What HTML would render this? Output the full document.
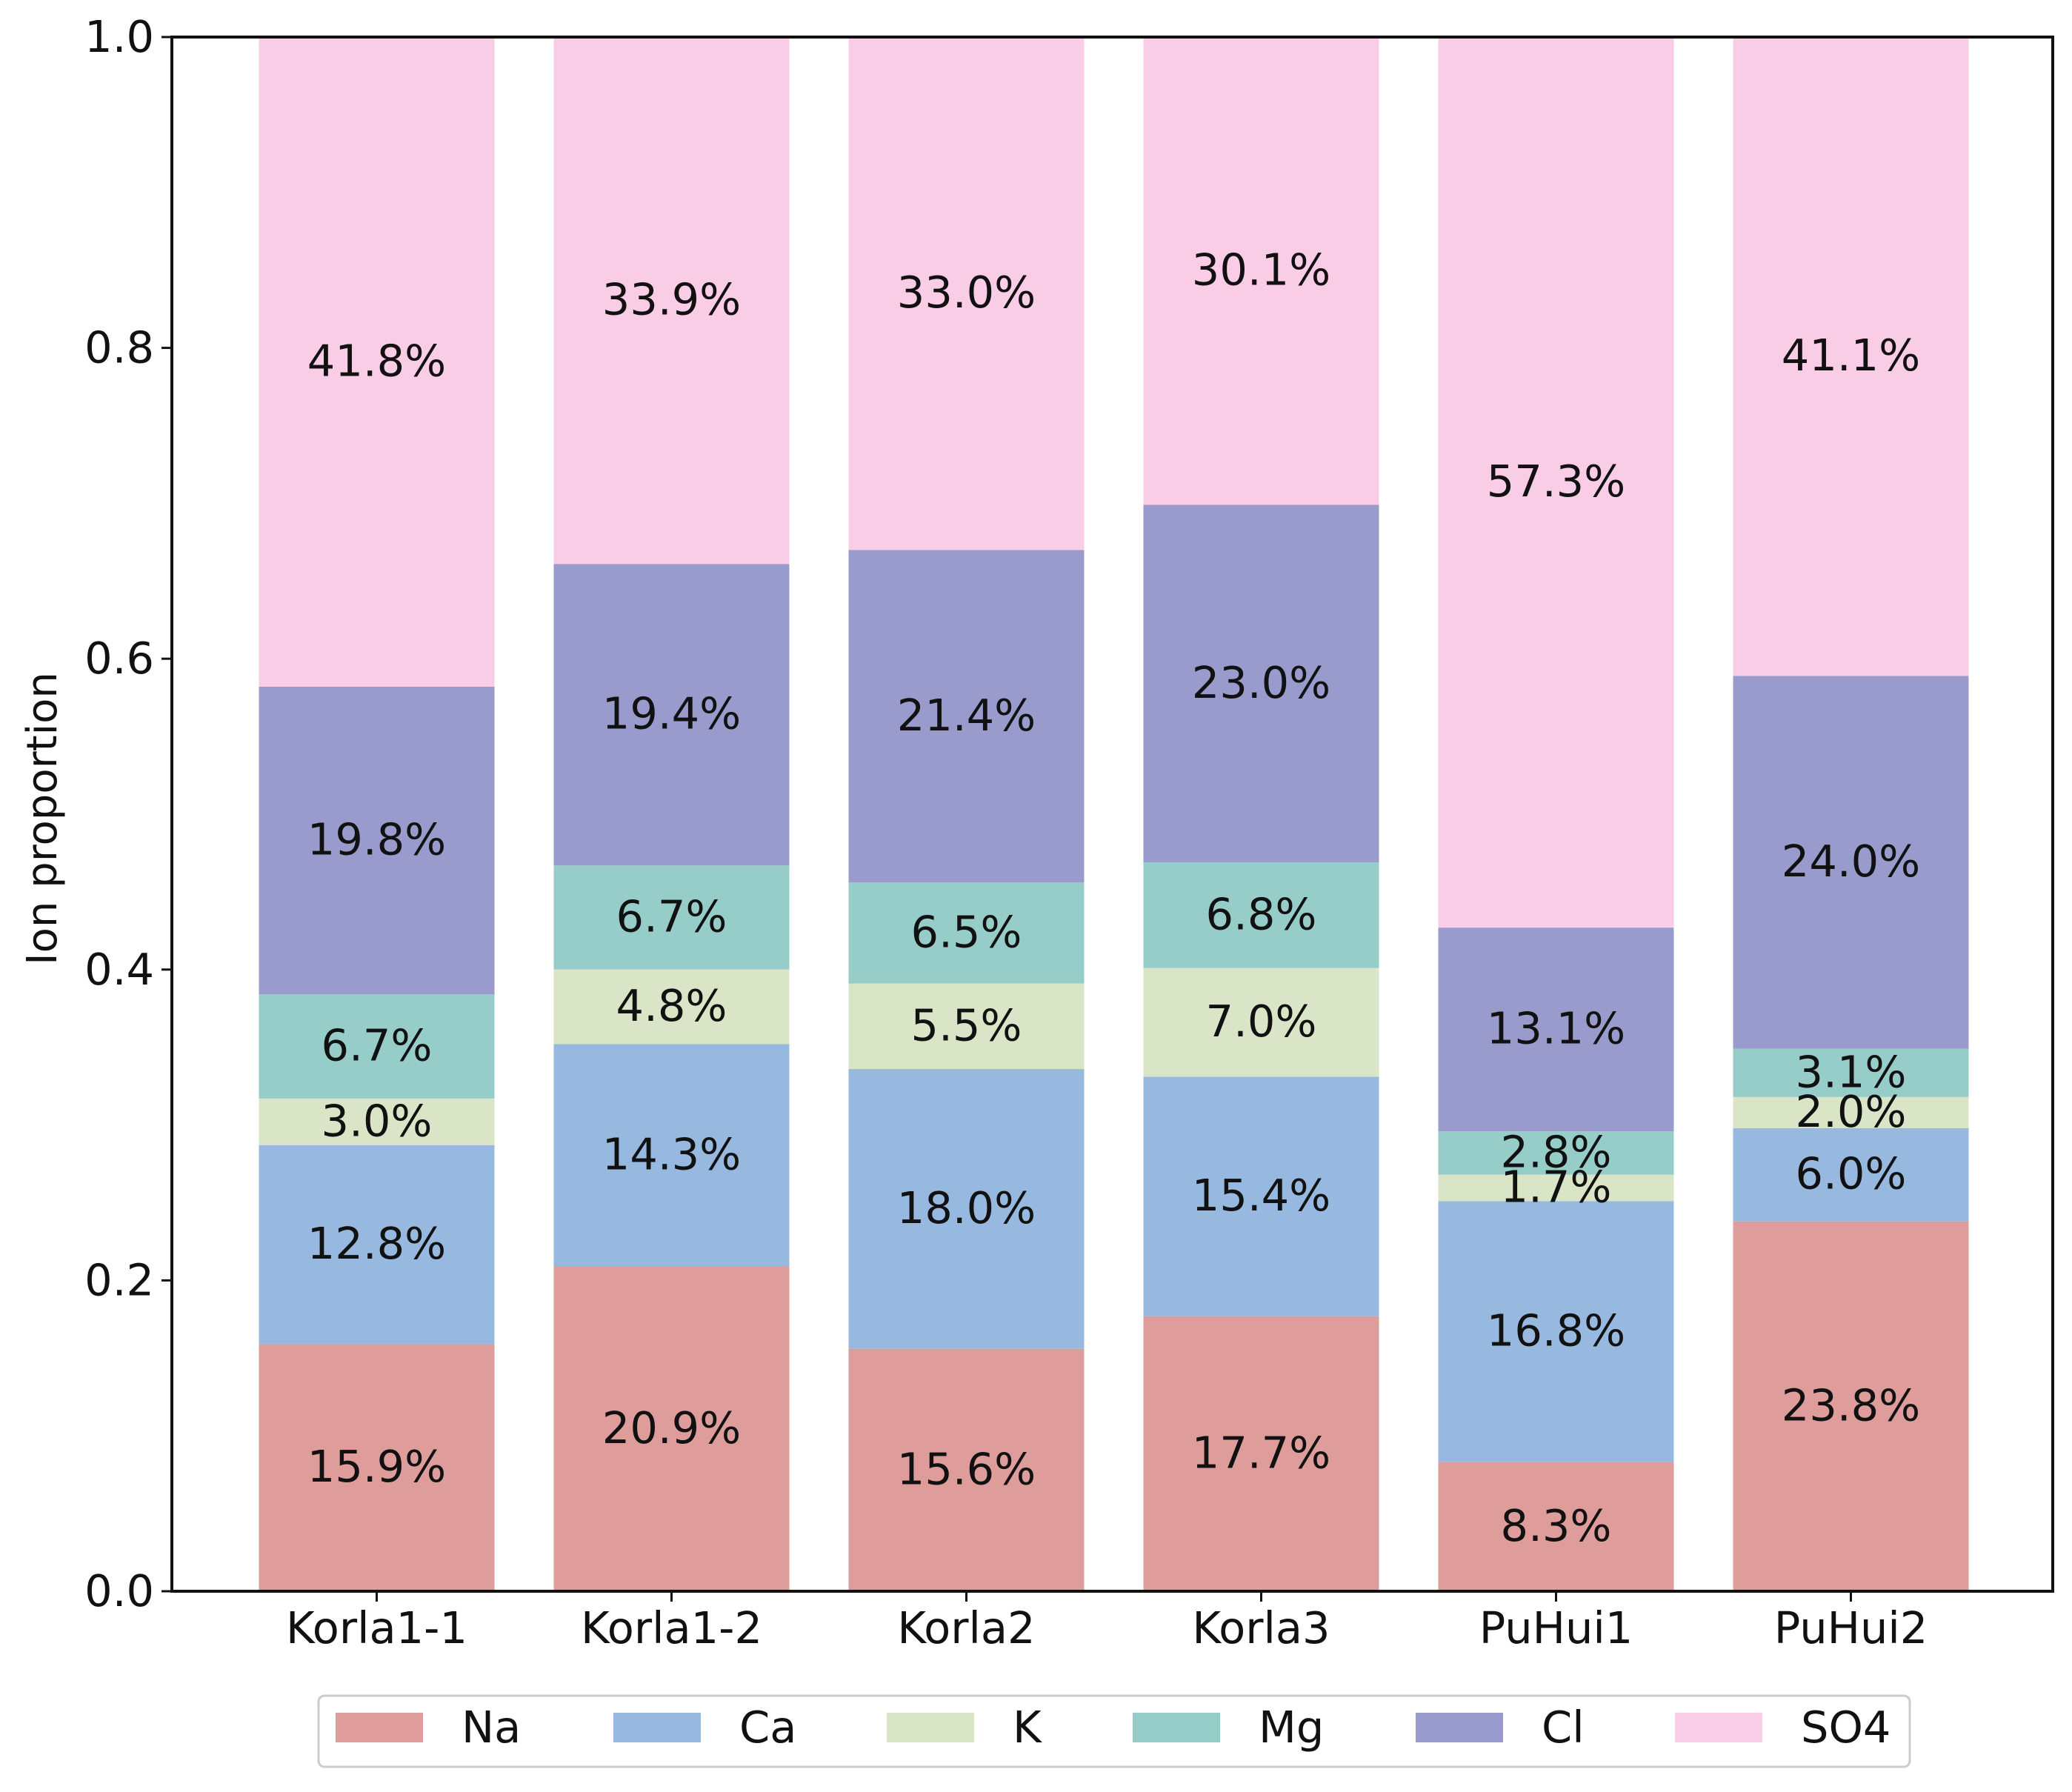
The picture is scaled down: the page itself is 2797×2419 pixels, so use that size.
<!DOCTYPE html>
<html><head><meta charset="utf-8">
<style>
html,body{margin:0;padding:0;background:#fff;}
svg{display:block;font-family:"DejaVu Sans","Liberation Sans",sans-serif;}
</style></head>
<body>
<svg id="chart" width="2797" height="2419" viewBox="0 0 2797 2419" xmlns="http://www.w3.org/2000/svg">
<g id="bars"></g>
<g id="labels"></g>
<rect x="232" y="50" width="2539" height="2098" fill="none" stroke="#111" stroke-width="4"/>
<g id="yaxis"></g>
<g id="xaxis"></g>
<text transform="translate(76,1105) rotate(-90)" text-anchor="middle" font-size="56" fill="#111">Ion proportion</text>
<g id="legend">
<rect x="430" y="2289" width="2148" height="96" rx="8" fill="#fff" stroke="#ccc" stroke-width="3"/>
</g>
</svg>
<script>
const categories = ["Korla1-1","Korla1-2","Korla2","Korla3","PuHui1","PuHui2"];
const seriesNames = ["Na","Ca","K","Mg","Cl","SO4"];
const Na  = [15.9,20.9,15.6,17.7,8.3,23.8];
const Ca  = [12.8,14.3,18.0,15.4,16.8,6.0];
const K   = [3.0,4.8,5.5,7.0,1.7,2.0];
const Mg  = [6.7,6.7,6.5,6.8,2.8,3.1];
const Cl  = [19.8,19.4,21.4,23.0,13.1,24.0];
const SO4 = [41.8,33.9,33.0,30.1,57.3,41.1];
const yTicks = [0.0,0.2,0.4,0.6,0.8,1.0];
const tickLabels = ["0.0","0.2","0.4","0.6","0.8","1.0"];

const series=[Na,Ca,K,Mg,Cl,SO4];
const colors=["#de9c9b","#97b9df","#d9e5c6","#96cdc9","#9a9bcd","#facde6"];
const NS="http://www.w3.org/2000/svg";
const X0=232,X1=2771,Y0=2148,Y1=50;
const step=398, first=508.5, bw=318;
function xPos(i){return first+i*step;}
function yPos(v){return Y0-(v)*(Y0-Y1);}
function mk(tag,attrs,parent){const e=document.createElementNS(NS,tag);for(const k in attrs)e.setAttribute(k,attrs[k]);parent.appendChild(e);return e;}
const gb=document.getElementById('bars'),gl=document.getElementById('labels');
categories.forEach((c,i)=>{
  let cum=0;
  series.forEach((s,j)=>{
    const v=s[i]/100;
    const r=mk('rect',{x:xPos(i)-bw/2,y:yPos(cum+v),width:bw,height:yPos(cum)-yPos(cum+v),fill:colors[j]},gb);
    
    
    const t=mk('text',{x:xPos(i),y:yPos(cum+v/2)+19,'text-anchor':'middle','font-size':'59',fill:'#111'},gl);
    t.textContent=s[i].toFixed(1)+'%';
    
    
    cum+=v;
  });
});
const gy=document.getElementById('yaxis');
yTicks.forEach((v,k)=>{
  const y=yPos(v);
  const l=mk('line',{x1:X0-14,x2:X0,y1:y,y2:y,stroke:'#111','stroke-width':3},gy);
  
  
  const t=mk('text',{x:X0-24,y:y+20,'text-anchor':'end','font-size':'59',fill:'#111'},gy);
  t.textContent=tickLabels[k];
  
  
});
const gx=document.getElementById('xaxis');
categories.forEach((c,i)=>{
  const x=xPos(i);
  const l=mk('line',{x1:x,x2:x,y1:Y0,y2:Y0+14,stroke:'#111','stroke-width':3},gx);
  
  
  const t=mk('text',{x:x,y:Y0+70,'text-anchor':'middle','font-size':'59',fill:'#111'},gx);
  t.textContent=c;
  
  
});
const lg=document.getElementById('legend');
const patchX=[453,828,1197,1529,1911,2261];
seriesNames.forEach((n,j)=>{
  const r=mk('rect',{x:patchX[j],y:2312,width:118,height:40,fill:colors[j]},lg);
  
  
  const t=mk('text',{x:patchX[j]+170,y:2352,'font-size':'59',fill:'#111'},lg);
  t.textContent=n;
  
  
});
</script>
</body></html>
